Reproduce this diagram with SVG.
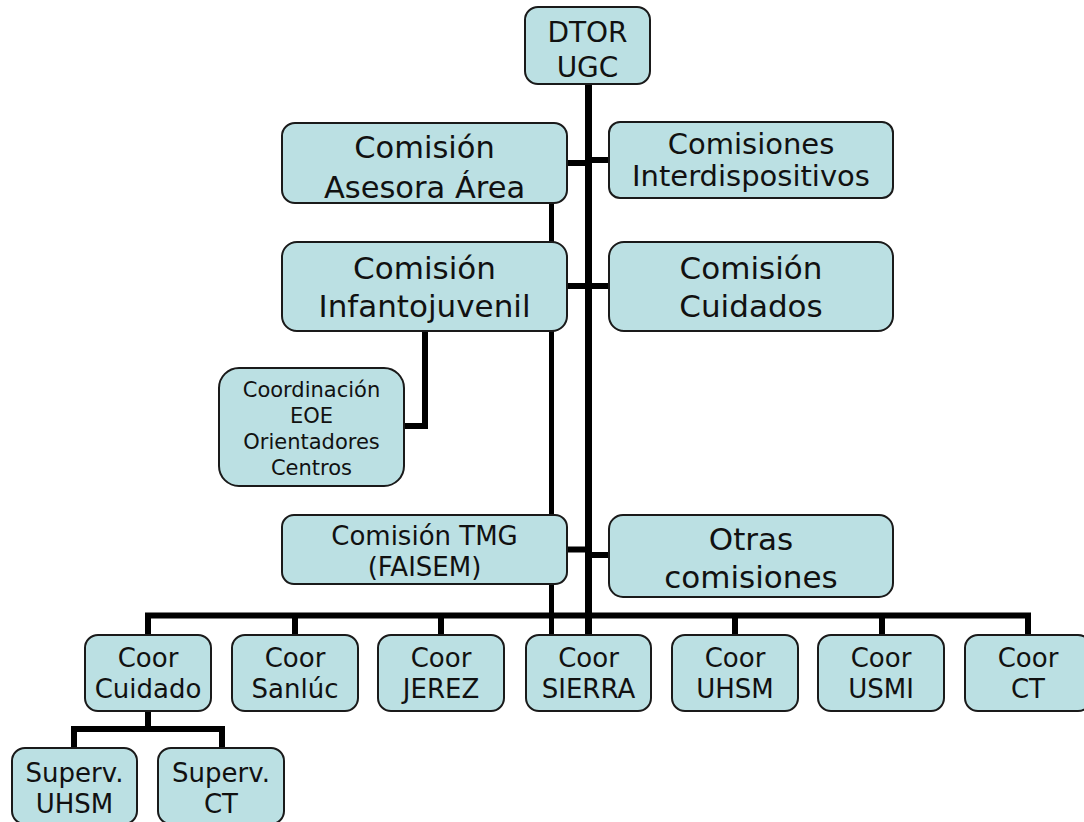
<svg xmlns="http://www.w3.org/2000/svg" width="1084" height="822" viewBox="0 0 1084 822">
<style>
.box{fill:#BBE0E3;stroke:#1a1a1a;stroke-width:2}
.t{font-family:"DejaVu Sans","Verdana",sans-serif;fill:#111;text-anchor:middle}
.ln{stroke:#000;stroke-width:6;fill:none;stroke-linecap:butt}
</style>
<rect width="1084" height="822" fill="#fff"/>
<g id="connectors">
  <line class="ln" x1="588.5" y1="84" x2="588.5" y2="635" style="stroke-width:7"/>
  <line class="ln" x1="551.5" y1="203" x2="551.5" y2="635" style="stroke-width:5"/>
  <line class="ln" x1="567" y1="163" x2="589" y2="163"/>
  <line class="ln" x1="588" y1="160" x2="609" y2="160"/>
  <line class="ln" x1="567" y1="286" x2="609" y2="286"/>
  <line class="ln" x1="567" y1="549.5" x2="589" y2="549.5"/>
  <line class="ln" x1="588" y1="555" x2="609" y2="555"/>
  <polyline class="ln" points="425,331 425,426 404,426"/>
  <line class="ln" x1="145" y1="615.5" x2="1031" y2="615.5"/>
  <line class="ln" x1="148" y1="613" x2="148" y2="635"/>
  <line class="ln" x1="295" y1="613" x2="295" y2="635"/>
  <line class="ln" x1="441" y1="613" x2="441" y2="635"/>
  <line class="ln" x1="735" y1="613" x2="735" y2="635"/>
  <line class="ln" x1="882" y1="613" x2="882" y2="635"/>
  <line class="ln" x1="1028" y1="613" x2="1028" y2="635"/>
  <line class="ln" x1="148" y1="711" x2="148" y2="729"/>
  <line class="ln" x1="71" y1="729" x2="225" y2="729"/>
  <line class="ln" x1="74" y1="726" x2="74" y2="748"/>
  <line class="ln" x1="222" y1="726" x2="222" y2="748"/>
</g>
<g id="n-dtor">
  <rect class="box" x="525" y="7" width="125" height="77" rx="13"/>
  <text class="t" x="587.5" y="42" font-size="28">DTOR</text>
  <text class="t" x="587.5" y="77" font-size="28">UGC</text>
</g>
<g id="n-asesora">
  <rect class="box" x="282" y="123" width="285" height="80" rx="13"/>
  <text class="t" x="424.5" y="158" font-size="30.5">Comisión</text>
  <text class="t" x="424.5" y="198" font-size="30.5">Asesora Área</text>
</g>
<g id="n-interdisp">
  <rect class="box" x="609" y="122" width="284" height="76" rx="11"/>
  <text class="t" x="751" y="154" font-size="29">Comisiones</text>
  <text class="t" x="751" y="186" font-size="29">Interdispositivos</text>
</g>
<g id="n-infanto">
  <rect class="box" x="282" y="242" width="285" height="89" rx="15"/>
  <text class="t" x="424.5" y="279" font-size="31">Comisión</text>
  <text class="t" x="424.5" y="317" font-size="31">Infantojuvenil</text>
</g>
<g id="n-cuidados">
  <rect class="box" x="609" y="242" width="284" height="89" rx="15"/>
  <text class="t" x="751" y="279" font-size="31">Comisión</text>
  <text class="t" x="751" y="317" font-size="31">Cuidados</text>
</g>
<g id="n-coord">
  <rect class="box" x="219" y="368" width="185" height="118" rx="20"/>
  <text class="t" x="311.5" y="397" font-size="21">Coordinación</text>
  <text class="t" x="311.5" y="423" font-size="21">EOE</text>
  <text class="t" x="311.5" y="449" font-size="21">Orientadores</text>
  <text class="t" x="311.5" y="475" font-size="21">Centros</text>
</g>
<g id="n-tmg">
  <rect class="box" x="282" y="515" width="285" height="69" rx="12"/>
  <text class="t" x="424.5" y="545" font-size="26">Comisión TMG</text>
  <text class="t" x="424.5" y="576" font-size="26">(FAISEM)</text>
</g>
<g id="n-otras">
  <rect class="box" x="609" y="515" width="284" height="82" rx="14"/>
  <text class="t" x="751" y="550" font-size="31">Otras</text>
  <text class="t" x="751" y="588" font-size="31">comisiones</text>
</g>
<g id="n-cuidado">
  <rect class="box" x="85" y="635" width="126" height="76" rx="13"/>
  <text class="t" x="148" y="667" font-size="26">Coor</text>
  <text class="t" x="148" y="698" font-size="26">Cuidado</text>
</g>
<g id="n-sanluc">
  <rect class="box" x="232" y="635" width="126" height="76" rx="13"/>
  <text class="t" x="295" y="667" font-size="26">Coor</text>
  <text class="t" x="295" y="698" font-size="26">Sanlúc</text>
</g>
<g id="n-jerez">
  <rect class="box" x="378" y="635" width="126" height="76" rx="13"/>
  <text class="t" x="441" y="667" font-size="26">Coor</text>
  <text class="t" x="441" y="698" font-size="26">JEREZ</text>
</g>
<g id="n-sierra">
  <rect class="box" x="526" y="635" width="125" height="76" rx="13"/>
  <text class="t" x="588.5" y="667" font-size="26">Coor</text>
  <text class="t" x="588.5" y="698" font-size="26">SIERRA</text>
</g>
<g id="n-uhsm">
  <rect class="box" x="672" y="635" width="126" height="76" rx="13"/>
  <text class="t" x="735" y="667" font-size="26">Coor</text>
  <text class="t" x="735" y="698" font-size="26">UHSM</text>
</g>
<g id="n-usmi">
  <rect class="box" x="818" y="635" width="126" height="76" rx="13"/>
  <text class="t" x="881" y="667" font-size="26">Coor</text>
  <text class="t" x="881" y="698" font-size="26">USMI</text>
</g>
<g id="n-ct">
  <rect class="box" x="965" y="635" width="126" height="76" rx="13"/>
  <text class="t" x="1028" y="667" font-size="26">Coor</text>
  <text class="t" x="1028" y="698" font-size="26">CT</text>
</g>
<g id="n-sup-uhsm">
  <rect class="box" x="12" y="748" width="125" height="76" rx="13"/>
  <text class="t" x="74.5" y="782" font-size="26">Superv.</text>
  <text class="t" x="74.5" y="813" font-size="26">UHSM</text>
</g>
<g id="n-sup-ct">
  <rect class="box" x="158" y="748" width="126" height="76" rx="13"/>
  <text class="t" x="221" y="782" font-size="26">Superv.</text>
  <text class="t" x="221" y="813" font-size="26">CT</text>
</g>
</svg>
